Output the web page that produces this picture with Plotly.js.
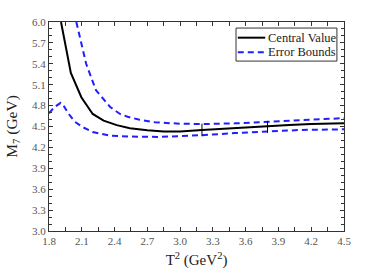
<!DOCTYPE html>
<html><head><meta charset="utf-8">
<script src="https://cdn.plot.ly/plotly-3.0.1.min.js"></script>
<style>html,body{margin:0;padding:0;background:#fff}#c{width:382px;height:273px}</style>
</head><body><div id="c"></div>
<script>
const centralT2 = [1.91, 2.0, 2.096, 2.2, 2.3, 2.42, 2.54, 2.7, 2.85, 3.0, 3.2, 3.4, 3.6, 3.8, 4.0, 4.2, 4.5];
const centralM  = [6.0, 5.27, 4.92, 4.68, 4.585, 4.52, 4.475, 4.445, 4.43, 4.43, 4.45, 4.47, 4.49, 4.51, 4.52, 4.535, 4.545];
const upperT2 = [2.05, 2.14, 2.23, 2.36, 2.45, 2.52, 2.62, 2.77, 3.0, 3.2, 3.5, 3.8, 4.1, 4.3, 4.5];
const upperM  = [6.0, 5.40, 5.02, 4.78, 4.68, 4.64, 4.60, 4.56, 4.54, 4.535, 4.545, 4.565, 4.59, 4.605, 4.62];
const lowerT2 = [1.8, 1.85, 1.907, 1.93, 1.975, 2.035, 2.11, 2.2, 2.35, 2.55, 2.8, 3.0, 3.2, 3.5, 3.8, 4.1, 4.5];
const lowerM  = [4.69, 4.78, 4.84, 4.81, 4.69, 4.57, 4.49, 4.42, 4.37, 4.355, 4.35, 4.36, 4.375, 4.405, 4.43, 4.45, 4.46];
const markT2 = [3.2, 3.8];
const markLow = [4.36, 4.41];
const markHigh = [4.54, 4.58];
const xTicks = [1.8, 2.1, 2.4, 2.7, 3.0, 3.3, 3.6, 3.9, 4.2, 4.5];
const yTicks = [3.0, 3.3, 3.6, 3.9, 4.2, 4.5, 4.8, 5.1, 5.4, 5.7, 6.0];
const legendNames = ['Central Value', 'Error Bounds'];

const blue = '#1f1fff';
const dash = '6px,4px';
const traces = [
  {x: centralT2, y: centralM, mode: 'lines', name: legendNames[0], line: {color: '#000', width: 2}},
  {x: upperT2, y: upperM, mode: 'lines', name: legendNames[1], line: {color: blue, width: 2, dash: dash}},
  {x: lowerT2, y: lowerM, mode: 'lines', name: legendNames[1], line: {color: blue, width: 2, dash: dash}}
];
markT2.forEach((t, i) => traces.push({x: [t, t], y: [markLow[i], markHigh[i]], mode: 'lines', line: {color: '#000', width: 1}}));

const ff = 'Liberation Serif, Times New Roman, serif';
const axBase = {
  showgrid: false, zeroline: false, showline: true, linecolor: '#333', linewidth: 1, mirror: 'allticks',
  ticks: 'inside', ticklen: 4, tickcolor: '#333', tickfont: {family: ff, size: 11, color: '#555'}
};
const lg = {x0: 0.634, x1: 0.976, y0: 0.813, y1: 0.971};
const rowY = [0.925, 0.855];
const shapes = [
  {type: 'rect', xref: 'paper', yref: 'paper', x0: lg.x0, x1: lg.x1, y0: lg.y0, y1: lg.y1, line: {color: '#333', width: 1}, fillcolor: '#fff', layer: 'above'},
  {type: 'line', xref: 'paper', yref: 'paper', x0: 0.64, x1: 0.733, y0: rowY[0], y1: rowY[0], line: {color: '#000', width: 2}, layer: 'above'},
  {type: 'line', xref: 'paper', yref: 'paper', x0: 0.64, x1: 0.733, y0: rowY[1], y1: rowY[1], line: {color: blue, width: 2, dash: dash}, layer: 'above'}
];
const annotations = legendNames.map((n, i) => ({
  text: n, xref: 'paper', yref: 'paper', x: 0.737, y: rowY[i], xanchor: 'left', yanchor: 'middle', showarrow: false,
  font: {family: ff, size: 12.5, color: '#222'}
}));
const layout = {
  width: 382, height: 273,
  margin: {l: 49, r: 38, t: 22, b: 42},
  paper_bgcolor: '#fff', plot_bgcolor: '#fff',
  font: {family: ff, color: '#222'},
  showlegend: false,
  shapes: shapes, annotations: annotations,
  xaxis: Object.assign({}, axBase, {range: [1.8, 4.5], tickmode: 'array', tickvals: xTicks, ticktext: xTicks.map(v => v.toFixed(1)),
    minor: {ticks: 'inside', ticklen: 4, tickcolor: '#333', dtick: 0.15, tick0: 1.8},
    title: {text: 'T<sup>2</sup> (GeV<sup>2</sup>)', font: {family: ff, size: 15, color: '#222'}, standoff: 8}}),
  yaxis: Object.assign({}, axBase, {range: [3.0, 6.0], tickmode: 'array', tickvals: yTicks, ticktext: yTicks.map(v => v.toFixed(1)),
    minor: {ticks: 'inside', ticklen: 3, tickcolor: '#333', dtick: 0.1, tick0: 3.0},
    title: {text: 'M<sub>7</sub> (GeV)', font: {family: ff, size: 15.5, color: '#222'}, standoff: 10}})
};
Plotly.newPlot('c', traces, layout, {displayModeBar: false, staticPlot: true});
</script></body></html>
